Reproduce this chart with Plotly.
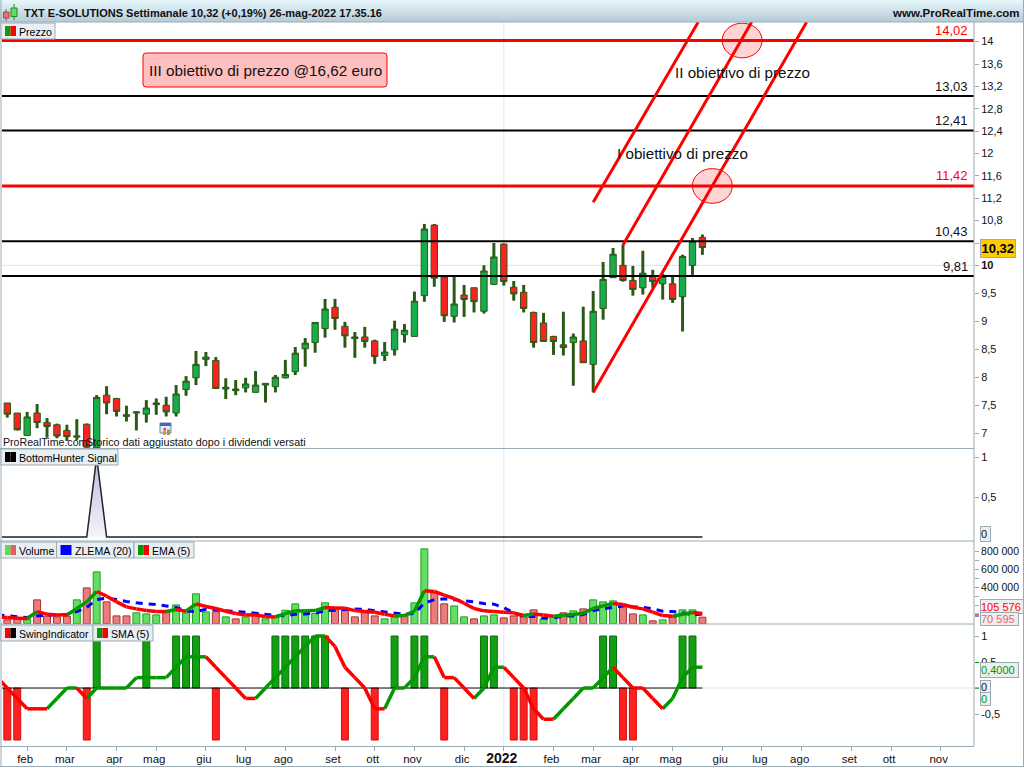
import plotly.graph_objects as go

# ---------- data ----------
opens = [7.54,7.36,6.96,7.36,7.19,7.15,7.05,6.93,7.16,6.74,7.68,7.62,7.30,7.36,7.34,7.51,7.50,7.36,7.78,7.99,
         8.32,8.30,7.79,7.76,7.81,7.73,7.86,7.83,7.99,8.10,8.51,8.62,8.87,9.25,8.91,8.69,8.72,8.65,8.39,8.49,
         8.76,8.73,9.46,10.72,9.79,9.09,9.47,9.60,9.18,9.66,10.38,9.61,9.52,9.16,8.97,8.73,8.58,8.62,8.65,8.23,
         9.23,9.78,10.00,9.73,9.60,9.80,9.67,9.67,9.44,10.00,10.50]
highs = [7.54,7.36,7.38,7.52,7.27,7.17,7.15,7.25,7.17,7.68,7.84,7.63,7.49,7.39,7.59,7.62,7.65,7.86,8.02,8.47,
         8.45,8.36,7.98,7.95,7.99,8.11,7.89,8.04,8.31,8.54,8.70,8.98,9.40,9.40,8.99,8.81,8.90,8.67,8.63,9.01,
         8.95,9.53,10.74,10.74,9.79,9.80,9.65,9.60,10.00,10.40,10.39,9.72,9.65,9.17,9.15,8.74,9.17,8.78,9.26,9.54,
         10.06,10.31,10.37,9.99,10.26,9.92,9.85,9.80,10.19,10.49,10.55]
lows = [7.28,7.05,6.96,7.09,6.92,6.91,6.86,6.88,6.74,6.72,7.34,7.30,7.21,7.05,7.19,7.33,7.30,7.30,7.67,7.86,
        8.20,7.79,7.61,7.68,7.73,7.73,7.55,7.73,7.98,8.04,8.19,8.44,8.71,8.85,8.53,8.35,8.53,8.24,8.29,8.39,
        8.62,8.73,9.35,9.62,8.99,8.98,9.08,9.16,9.14,9.66,9.64,9.37,9.16,8.53,8.64,8.40,8.39,7.85,8.26,7.73,
        9.03,9.78,9.71,9.46,9.48,9.60,9.39,9.33,8.82,9.83,10.19]
closes = [7.34,7.06,7.29,7.19,7.12,6.95,6.94,6.95,6.75,7.64,7.54,7.39,7.33,7.38,7.45,7.54,7.38,7.70,7.93,8.23,
          8.36,7.80,7.82,7.79,7.88,7.86,7.89,8.00,8.05,8.43,8.61,8.98,9.22,9.05,8.74,8.72,8.64,8.37,8.45,8.86,
          8.84,9.36,10.65,9.77,9.10,9.31,9.39,9.35,9.90,10.15,9.71,9.49,9.23,8.62,8.64,8.64,8.53,8.72,8.26,9.18,
          9.75,10.20,9.73,9.57,9.86,9.71,9.80,9.39,10.16,10.43,10.32]

levels_black = [13.03, 12.41, 10.43, 9.81]
levels_red = [14.02, 11.42]
level_labels = ["14,02", "13,03", "12,41", "11,42", "10,43", "9,81"]

trend_a_x = [59, 80.5];    trend_a_y = [7.725, 14.35]
trend_b_x = [62, 74.96];   trend_b_y = [10.365, 14.35]
trend_c_x = [59, 69.58];   trend_c_y = [11.127, 14.35]

# the indicator series below start one week before the first candle (index -1)
series_x = list(range(-1, 71))
signal = [0,0,0,0,0,0,0,0,0,0,1] + [0]*61

volume = [41,52,44,263,81,74,81,263,396,574,241,85,85,119,107,96,122,207,119,330,
          130,130,74,52,74,111,52,74,148,219,126,111,230,163,148,74,119,85,52,74,
          81,230,830,341,219,196,74,52,85,96,63,85,74,152,52,74,119,141,163,263,
          241,252,207,107,96,30,41,74,152,152,70.595]
volume_up = [0,0,1,0,0,0,0,1,0,1,0,0,0,1,1,1,0,1,1,1,
             1,0,1,0,1,0,1,1,1,1,1,1,1,0,0,0,0,0,1,1,
             0,1,1,0,0,1,1,0,1,1,0,0,0,0,1,1,0,1,0,1,
             1,1,0,0,1,0,1,0,1,1,0]
zlema = [96,89,78,67,85,93,100,104,133,181,267,281,267,244,230,222,211,196,178,141,133,
         159,152,144,133,126,115,100,89,85,104,107,115,141,148,152,163,156,141,130,111,
         104,111,230,263,274,263,256,241,222,215,178,119,78,81,59,63,81,85,100,144,
         163,178,196,185,181,163,137,133,119,96,105.576]
ema = [74,67,59,56,133,104,96,96,167,241,356,304,241,185,163,144,133,133,156,137,219,
       189,167,137,111,96,96,78,74,111,141,141,144,178,174,170,144,133,126,104,85,
       89,137,363,356,315,278,226,167,141,133,126,119,89,107,96,81,93,100,115,167,
       196,222,211,181,163,126,89,81,104,122,111]

swing = [-1,-1,0,0,0,0,0,0,-1,1,0,0,0,0,1,0,0,1,1,1,
         0,-1,0,0,0,0,0,1,1,1,1,1,1,0,-1,0,0,-1,0,1,
         0,1,1,0,-1,0,0,0,1,1,0,-1,-1,-1,0,0,0,0,0,0,
         1,1,-1,-1,0,0,0,0,1,1,0]
sma = [0.2,0,-0.2,-0.4,-0.4,-0.4,-0.2,0,0,-0.2,0,0,0,0,0.2,0.2,0.2,0.2,0.4,0.6,0.6,
       0.6,0.4,0.2,0,-0.2,-0.2,0,0.2,0.4,0.6,0.8,1,1,0.8,0.4,0.2,
       0,-0.4,-0.4,0,0,0.2,0.6,0.6,0.2,0.2,0,-0.2,0,0.4,0.4,0.2,0,-0.4,-0.6,-0.6,
       -0.4,-0.2,0,0,0.2,0.4,0.2,0,0,-0.2,-0.4,-0.2,0.2,0.4,0.4]

month_pos = [2,6,11,15,20,24,28,33,37,41,46,50,55,59,63,67,72,76,80,85,89,94]
month_lab = ["feb","mar","apr","mag","giu","lug","ago","set","ott","nov","dic","<b style='font-size:14px'>2022</b>",
             "feb","mar","apr","mag","giu","lug","ago","set","ott","nov"]

price_ticks = [14,13.6,13.2,12.8,12.4,12,11.6,11.2,10.8,10.4,10,9.5,9,8.5,8,7.5,7]
price_text = ["14","13,6","13,2","12,8","12,4","12","11,6","11,2","10,8","","<b>10</b>","9,5","9","8,5","8","7,5","7"]
vol_ticks = [800,700,600,500,400,300,200,100]
vol_text = ["800 000","","600 000","","400 000","","",""]

# ---------- layout helpers (page pixels) ----------
W, H = 1024, 768
FONT = "Liberation Sans, Arial, sans-serif"
GREY = "#9aabb5"
xs = list(range(len(closes)))
shapes, notes = [], []

def px(x): return x / W
def py(y): return 1 - y / H

def box(x0, y0, x1, y1, fill, line=None, lw=1, layer="above"):
    shapes.append(dict(type="rect", xref="paper", yref="paper", x0=px(x0), x1=px(x1), y0=py(y0), y1=py(y1),
                       fillcolor=fill, line=dict(color=line or fill, width=lw if line else 0), layer=layer))

def rule(x0, y0, x1, y1, color=GREY, w=1):
    shapes.append(dict(type="line", xref="paper", yref="paper", x0=px(x0), x1=px(x1), y0=py(y0), y1=py(y1),
                       line=dict(color=color, width=w), layer="above"))

def text(x, y, s, size=11, color="#000", anchor="left", bold=False):
    notes.append(dict(xref="paper", yref="paper", x=px(x), y=py(y), text=f"<b>{s}</b>" if bold else s,
                      showarrow=False, xanchor=anchor, yanchor="middle",
                      font=dict(family=FONT, size=size, color=color), borderpad=0))

def tag(x0, y0, x1, y1, s, color, fill="#eeeeee", bold=False, size=11, valign="middle", align="left"):
    notes.append(dict(xref="paper", yref="paper", x=px(x0), y=py(y0), xanchor="left", yanchor="top",
                      width=x1 - x0, height=y1 - y0, text=f"<b>{s}</b>" if bold else s, showarrow=False,
                      align=align, valign=valign, bgcolor=fill, bordercolor=GREY, borderwidth=1, borderpad=0,
                      font=dict(family=FONT, size=size, color=color)))

fig = go.Figure()

# ---------- price panel ----------
fig.add_trace(go.Bar(x=xs, base=lows, y=[h - l for h, l in zip(highs, lows)], width=0.3,
                     marker=dict(color="#2b5a16", line=dict(width=0)), yaxis="y", hoverinfo="skip"))
fig.add_trace(go.Candlestick(x=xs, open=opens, high=highs, low=lows, close=closes, yaxis="y",
                             increasing=dict(fillcolor="#18ad4c", line=dict(color="#2b5a16", width=1)),
                             decreasing=dict(fillcolor="#fb2222", line=dict(color="#2b5a16", width=1))))
X0, X1 = -0.534, 97.35
for lv in levels_black:
    fig.add_trace(go.Scatter(x=[X0, X1], y=[lv, lv], mode="lines", line=dict(color="#000", width=2), yaxis="y"))
for lv in levels_red:
    fig.add_trace(go.Scatter(x=[X0, X1], y=[lv, lv], mode="lines", line=dict(color="#ff0000", width=3), yaxis="y"))
for tx, ty in ((trend_a_x, trend_a_y), (trend_b_x, trend_b_y), (trend_c_x, trend_c_y)):
    fig.add_trace(go.Scatter(x=tx, y=ty, mode="lines", line=dict(color="#ff0000", width=3), yaxis="y"))

for cx, cy in ((74.0, 14.02), (71.0, 11.42)):
    shapes.append(dict(type="circle", xref="x", yref="y", x0=cx - 2.01, x1=cx + 2.01, y0=cy - 0.31, y1=cy + 0.31,
                       fillcolor="rgba(255,0,0,0.17)", line=dict(color="#ff0000", width=1), layer="above"))
shapes.append(dict(type="line", xref="x", yref="y", x0=X0, x1=X1, y0=10, y1=10,
                   line=dict(color="#e2e2e2", width=1), layer="below"))
shapes.append(dict(type="line", xref="x", yref="paper", x0=50, x1=50, y0=py(746), y1=py(22),
                   line=dict(color="#e2e4ea", width=1), layer="below"))

# ---------- signal panel ----------
fig.add_trace(go.Scatter(x=series_x, y=signal, mode="lines", line=dict(color="#222", width=1.5), yaxis="y2",
                         fill="tozeroy",
                         fillgradient=dict(type="vertical",
                                           colorscale=[[0, "#f4f4fa"], [1, "#babae0"]])))

# ---------- volume panel ----------
fig.add_trace(go.Bar(x=xs, y=[v * 1000 for v in volume], width=0.7, yaxis="y3",
                     marker=dict(color=["#63dd63" if u else "#ea7c7c" for u in volume_up],
                                 line=dict(color=["#1fa01f" if u else "#a83232" for u in volume_up], width=1))))
fig.add_trace(go.Scatter(x=series_x, y=[v * 1000 for v in zlema], mode="lines", yaxis="y3",
                         line=dict(color="#0000ff", width=3, dash="7px,6px")))

def two_tone(x, y, axis, width):
    gx, gy, rx, ry = [], [], [], []
    rising = y[1] >= y[0]
    for i in range(len(y) - 1):
        if y[i + 1] != y[i]:
            rising = y[i + 1] > y[i]
        ax, ay = (gx, gy) if rising else (rx, ry)
        ax += [x[i], x[i + 1], None]
        ay += [y[i], y[i + 1], None]
    fig.add_trace(go.Scatter(x=gx, y=gy, mode="lines", yaxis=axis, line=dict(color="#009900", width=width)))
    fig.add_trace(go.Scatter(x=rx, y=ry, mode="lines", yaxis=axis, line=dict(color="#ff0000", width=width)))

two_tone(series_x, [v * 1000 for v in ema], "y3", 3.5)

# ---------- swing panel ----------
fig.add_trace(go.Bar(x=xs, y=[s if s else None for s in swing], width=0.7, yaxis="y4",
                     marker=dict(color=["#12a012" if s > 0 else "#ff2020" for s in swing],
                                 line=dict(color=["#0a700a" if s > 0 else "#d01010" for s in swing], width=1))))
fig.add_trace(go.Scatter(x=series_x, y=[0] * len(series_x), mode="lines", yaxis="y4", line=dict(color="#000", width=1)))
two_tone(series_x, sma, "y4", 3.5)
shapes.append(dict(type="line", xref="x", yref="y4", x0=70, x1=X1, y0=0, y1=0,
                   line=dict(color="#e2e2e2", width=1), layer="below"))

# ---------- window furniture ----------
top, bottom = (0xe6, 0xf6, 0xfb), (0xb6, 0xcb, 0xd8)
for r in range(22):
    t = r / 21
    c = tuple(round(a + (b - a) * t) for a, b in zip(top, bottom))
    box(0, r, W, r + 1, "rgb(%d,%d,%d)" % c)
rule(0, 22, W, 22)
rule(1, 0, 1, 767)
rule(974, 22, 974, 746)
rule(0, 448.5, 974, 448.5)
rule(0, 541, 974, 541)
rule(0, 624, 974, 624)
rule(0, 746.5, 974, 746.5)
rule(0, 766.5, W, 766.5)
rule(W - 0.5, 0, W - 0.5, 767)

# header icon
rule(6, 9, 6, 21, "#a04848", 1)
box(3.5, 12, 9, 18, "#e87070", "#a04848")
rule(14, 4, 14, 20, "#1c8c1c", 1)
box(11, 8, 17, 16.5, "#63dd63", "#1c8c1c")
text(23, 13, "TXT E-SOLUTIONS Settimanale 10,32 (+0,19%) 26-mag-2022 17.35.16", 11, "#101010", bold=True)
text(1021, 13, "www.ProRealTime.com", 11.5, "#101010", "right", True)

def tab(x0, y0, x1, y1, s, c1, c2):
    box(x0, y0, x1, y1, "#e8eef2", GREY)
    box(x0 + 4, y0 + 3, x0 + 9.5, y0 + 13, c1)
    box(x0 + 9.5, y0 + 3, x0 + 15, y0 + 13, c2)
    text(x0 + 17, (y0 + y1) / 2 + 0.5, s, 10.6)

tab(1, 23, 55, 39, "Prezzo", "#109a10", "#ff0000")
tab(1, 449, 118, 465, "BottomHunter Signal", "#000", "#000")
tab(1, 542, 56.5, 558, "Volume", "#55dd55", "#e06060")
tab(56.5, 542, 134, 558, "ZLEMA (20)", "#0000ff", "#0000ff")
tab(134, 542, 194, 558, "EMA (5)", "#009900", "#ff0000")
tab(1, 625, 93, 641, "SwingIndicator", "#ff0000", "#000")
tab(93, 625, 153, 641, "SMA (5)", "#009900", "#ff0000")

# red note box with rounded corners
notex0, notex1, notey0, notey1, rad = 143, 387, 53, 87, 3
def P(x, y): return f"{px(x)},{py(y)}"
shapes.append(dict(type="path", xref="paper", yref="paper", layer="above",
                   path=f"M{P(notex0 + rad, notey0)} L{P(notex1 - rad, notey0)} Q{P(notex1, notey0)} {P(notex1, notey0 + rad)} "
                        f"L{P(notex1, notey1 - rad)} Q{P(notex1, notey1)} {P(notex1 - rad, notey1)} "
                        f"L{P(notex0 + rad, notey1)} Q{P(notex0, notey1)} {P(notex0, notey1 - rad)} "
                        f"L{P(notex0, notey0 + rad)} Q{P(notex0, notey0)} {P(notex0 + rad, notey0)} Z",
                   fillcolor="#ffbfbf", line=dict(color="#ff0000", width=1)))
text(148, 70, "III obiettivo di prezzo @16,62 euro", 15.3, "#111")
text(674, 72.5, "II obiettivo di prezzo", 15.2, "#111")
text(616, 153, "I obiettivo di prezzo", 15.2, "#111")

for lab, y, col in zip(level_labels, (30.5, 86.5, 120, 176, 231.5, 266.5),
                       ("#ff0000", "#111", "#111", "#ff0000", "#111", "#111")):
    text(969, y, lab, 13, col, "right")

text(2, 442, "ProRealTime.com", 10.6, "#111")
text(85, 442, "Storico dati aggiustato dopo i dividendi versati", 10.8, "#111")

# small calendar + coins marker
box(160, 423, 171, 433, "#e4ebf6", "#6f86a8")
box(160, 423, 171, 426, "#3a6fb0")
box(163.5, 428, 166, 430.5, "#e04040")
box(163, 431, 166, 435, "#c8a53a")
box(167, 429.5, 170, 435, "#b8962e")

# right-hand value tags
tag(979.5, 238.5, 1013, 255.5, "10,32", "#000", "#ffcc00", True, 13, align="center")
tag(979.5, 526, 988, 540, "0", "#111")
tag(979.5, 599, 1021.5, 611.5, "105 576", "#ff0000", size=11, valign="bottom")
tag(979.5, 611.5, 1016, 623.5, "70 595", "#f06060", size=11)
tag(979.5, 662, 1016, 675.5, "0,4000", "#009900", size=11)
tag(979.5, 680, 988, 691.5, "0", "#111")
tag(979.5, 692, 988, 704, "0", "#009900")
rule(975, 614, 979, 614, "#ff4040", 1)
rule(975, 616, 979, 616, "#0000ff", 1)
rule(975, 662.5, 979, 662.5, "#009900", 1)
rule(975, 688, 979, 688, "#009900", 1)

def dom(y_top, y_bot): return [py(y_bot), py(y_top)]

common = dict(side="right", anchor="x", showgrid=False, zeroline=False, showline=False, ticks="outside",
              ticklen=4, tickcolor=GREY, tickfont=dict(family=FONT, size=11, color="#111"), fixedrange=True)
vol_axis = {**common, "tickfont": dict(family=FONT, size=10.5, color="#111")}

fig.update_layout(
    width=W, height=H, margin=dict(l=0, r=0, t=0, b=0), paper_bgcolor="#ffffff", plot_bgcolor="#ffffff",
    showlegend=False, barmode="overlay", boxgap=0.36, boxgroupgap=0, shapes=shapes, annotations=notes,
    font=dict(family=FONT),
    xaxis=dict(domain=[px(2), px(974)], range=[X0, X1], anchor="y4", tickmode="array", tickvals=month_pos,
               ticktext=month_lab, ticks="outside", ticklen=4, tickcolor=GREY, showgrid=False, zeroline=False,
               rangeslider=dict(visible=False), tickfont=dict(family=FONT, size=11.5, color="#111"),
               tickangle=0, fixedrange=True, ticklabelstandoff=-2, ticklabelshift=-2),
    yaxis=dict(domain=dom(22, 448), range=[6.735, 14.351], tickmode="array", tickvals=price_ticks,
               ticktext=price_text, **common),
    yaxis2=dict(domain=dom(449, 541), range=[-0.05, 1.1], tickmode="array", tickvals=[1, 0.5],
                ticktext=["1", "0,5"], **common),
    yaxis3=dict(domain=dom(541, 624), range=[-5000, 917000], tickmode="array", tickvals=[v * 1000 for v in vol_ticks],
                ticktext=vol_text, **vol_axis),
    yaxis4=dict(domain=dom(624, 746), range=[-1.115, 1.231], tickmode="array", tickvals=[1, 0.5, 0, -0.5],
                ticktext=["1", "0,5", "", "-0,5"], **common),
)

fig.write_html("out.html", config={"displayModeBar": False},
               post_script="document.body.style.margin='0';document.body.style.overflow='hidden';")
